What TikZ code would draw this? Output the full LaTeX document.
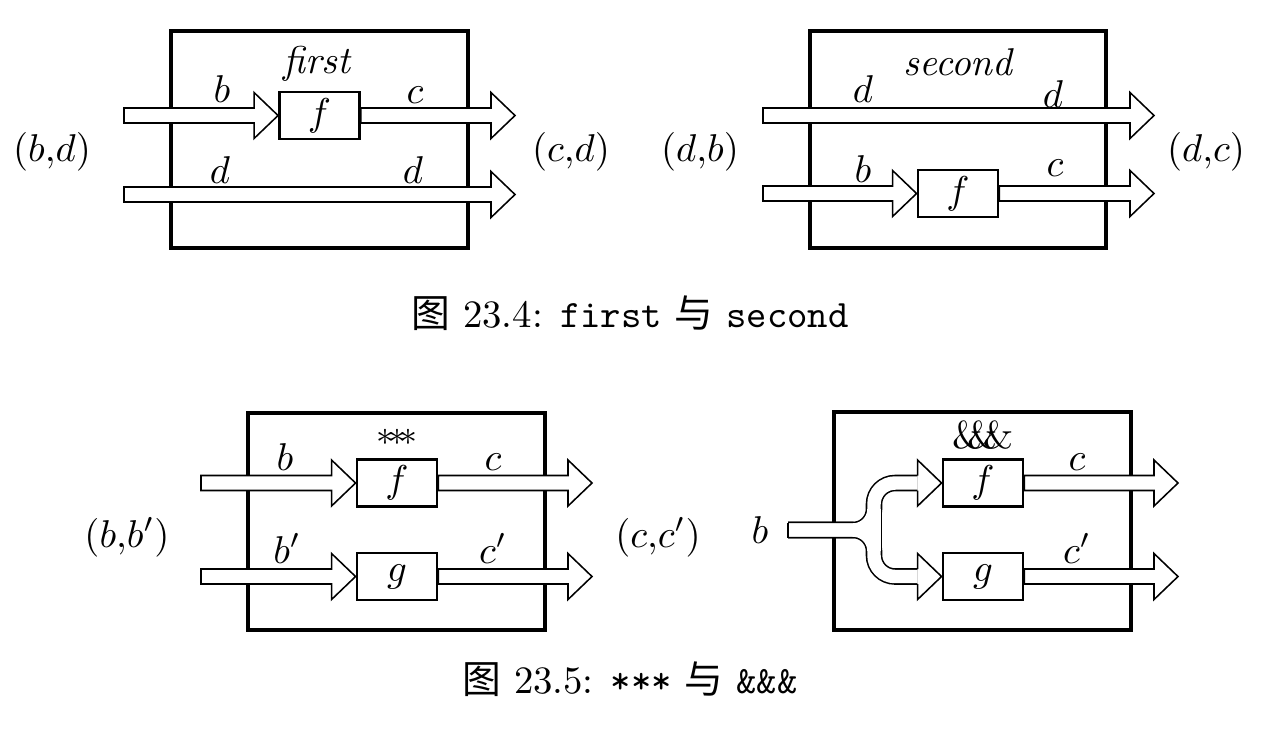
\documentclass[tikz,border=0pt]{standalone}
\usepackage{fontspec}
\newfontfamily\cjk{Noto Sans CJK SC}
\usetikzlibrary{calc}
% one drawing unit
\newcommand\U{0.258pt}
\tikzset{
  outerbox/.style={line width=0.8pt},
  fnbox/.style={draw, line width=0.75pt, fill=white, minimum width=80*\U,
                minimum height=47*\U, inner sep=0pt},
  wire/.style={line width=0.4pt, fill=white},
  lbl/.style={anchor=base, inner sep=0pt},
}
% hollow horizontal arrow from #1 to the x of #2
\newcommand\fatarrow[2]{%
  \filldraw[wire] let \p1=(#1), \p2=(#2) in
    ([shift={(0,7.5)}]\x1,\y1) -- ([shift={(-24,7.5)}]\x2,\y1)
    -- ([shift={(-24,23)}]\x2,\y1) -- (\x2,\y1)
    -- ([shift={(-24,-23)}]\x2,\y1) -- ([shift={(-24,-7.5)}]\x2,\y1)
    -- ([shift={(0,-7.5)}]\x1,\y1) -- cycle;}
% open head whose tip is #1
\newcommand\fathead[1]{%
  \filldraw[wire] ([shift={(-24,7.5)}]#1) -- ([shift={(-24,23)}]#1) -- (#1)
    -- ([shift={(-24,-23)}]#1) -- ([shift={(-24,-7.5)}]#1);}
\begin{document}
\begin{tikzpicture}[x=\U, y=-\U]
\useasboundingbox (0,0) rectangle (1270,732);

% ---------------- first ----------------
\draw[outerbox] (171,31) rectangle (468,248);
\coordinate (b1in) at (124,115.5);
\coordinate (c1out) at (515,115.5);
\coordinate (d1in) at (124,194.5);
\coordinate (d1out) at (515,194.5);
\node[fnbox] (f1) at (319.5,115.5) {$f$};
\fatarrow{b1in}{f1.west}
\fatarrow{f1.east}{c1out}
\fatarrow{d1in}{d1out}
\node[fnbox] (f1b) at (319.5,115.5) {$f$};
\node[lbl] (t1) at (318,73) {\textit{first}};
\node[lbl] (lb1) at (222,102) {$b$};
\node[lbl] (lc1) at (415,103) {$c$};
\node[lbl] (ld1) at (220,183) {$d$};
\node[lbl] (ld1r) at (413,183) {$d$};
\node[lbl] (in1) at (52,161) {$(b{,}d)$};
\node[lbl] (out1) at (571,161) {$(c{,}d)$};

% ---------------- second ----------------
\draw[outerbox] (810,31) rectangle (1106,248);
\coordinate (d2in) at (763,115.5);
\coordinate (d2out) at (1154,115.5);
\coordinate (b2in) at (763,193.5);
\coordinate (c2out) at (1154,193.5);
\node[fnbox] (f2) at (958,193.5) {$f$};
\fatarrow{d2in}{d2out}
\fatarrow{b2in}{f2.west}
\fatarrow{f2.east}{c2out}
\node[fnbox] (f2b) at (958,193.5) {$f$};
\node[lbl] (t2) at (959,75) {\textit{second}};
\node[lbl] (ld2) at (863,102) {$d$};
\node[lbl] (ld2r) at (1053,107) {$d$};
\node[lbl] (lb2) at (863,182) {$b$};
\node[lbl] (lc2) at (1055,176) {$c$};
\node[lbl] (in2) at (700,161) {$(d{,}b)$};
\node[lbl] (out2) at (1206,161) {$(d{,}c)$};

\node[lbl] (cap1) at (630,327) {{\cjk 图}~23.4: \texttt{first} {\cjk 与} \texttt{second}};

% ---------------- *** ----------------
\draw[outerbox] (248,413) rectangle (545,630);
\coordinate (b3in) at (201,483);
\coordinate (c3out) at (592,483);
\coordinate (bb3in) at (201,576.5);
\coordinate (cc3out) at (592,576.5);
\node[fnbox] (f3) at (397,483) {$f$};
\node[fnbox] (g3) at (397,576.5) {$g$};
\fatarrow{b3in}{f3.west}
\fatarrow{f3.east}{c3out}
\fatarrow{bb3in}{g3.west}
\fatarrow{g3.east}{cc3out}
\node[fnbox] (f3b) at (397,483) {$f$};
\node[fnbox] (g3b) at (397,576.5) {$g$};
\node[inner sep=0pt] (t3) at (397,437) {\fontsize{9}{10}\selectfont${\ast}\!{\ast}\!{\ast}$};
\node[lbl] (lb3) at (285,470) {$b$};
\node[lbl] (lc3) at (493,470) {$c$};
\node[lbl] (lbb3) at (287,563) {$b'$};
\node[lbl] (lcc3) at (493,563) {$c'$};
\node[lbl] (in3) at (127,547) {$(b{,}b')$};
\node[lbl] (out3) at (658,547) {$(c{,}c')$};

% ---------------- &&& ----------------
\draw[outerbox] (834,412) rectangle (1131,630);
\coordinate (b4in) at (788,530);
\coordinate (split) at (874,530);
\coordinate (c4out) at (1178,483);
\coordinate (cc4out) at (1178,576.5);
\node[fnbox] (f4) at (983,483) {$f$};
\node[fnbox] (g4) at (983,576.5) {$g$};
% forked body: dark outline first, then the white interior
\foreach \w/\c in {15*\U+0.4pt/black, 15*\U-0.4pt/white}{
  \draw[line width=\w, draw=\c, rounded corners=21*\U]
    (b4in) -- (split) |- ([xshift=-24*\U]f4.west);
  \draw[line width=\w, draw=\c, rounded corners=21*\U]
    (b4in) -- (split) |- ([xshift=-24*\U]g4.west);
  \draw[line width=\w, draw=\c]
    ([shift={(0,-21)}]split) -- ([shift={(0,21)}]split);
}
\draw[line width=0.4pt] ([shift={(0,-7.5)}]b4in) -- ([shift={(0,7.5)}]b4in);
\fathead{f4.west}
\fathead{g4.west}
\fatarrow{f4.east}{c4out}
\fatarrow{g4.east}{cc4out}
\node[fnbox] (f4b) at (983,483) {$f$};
\node[fnbox] (g4b) at (983,576.5) {$g$};
\node[lbl] (t4) at (983,448) {\&\kern-0.38em\&\kern-0.38em\&};
\node[lbl] (lb4) at (760,543) {$b$};
\node[lbl] (lc4) at (1077,470) {$c$};
\node[lbl] (lcc4) at (1077,563) {$c'$};

\node[lbl] (cap2) at (630,693) {{\cjk 图}~23.5: \texttt{***} {\cjk 与} \texttt{\&\&\&}};
\end{tikzpicture}
\end{document}
